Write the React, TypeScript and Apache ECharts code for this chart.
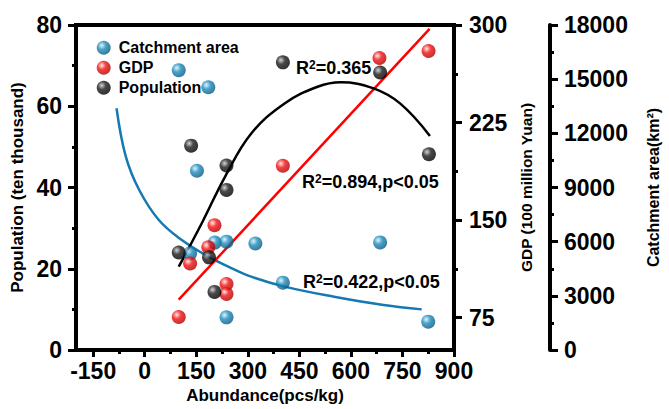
import React, { useEffect, useRef } from "react";
import * as echarts from "echarts";

// ---- data ----
const catchAbundance = [99, 185, 152, 132, 204, 238, 322, 685, 402, 238, 825];
const catchmentValues = [15500, 14550, 9930, 5350, 5950, 6000, 5900, 5960, 3730, 1810, 1570];

const gdpAbundance = [203, 185, 132, 238, 238, 99, 683, 826, 402];
const gdpValues = [146, 129, 116.5, 100.8, 93.1, 75.4, 274.6, 280, 191.7];

const popAbundance = [402, 685, 827, 135, 238, 238, 99, 187, 203];
const popValues = [70.8, 68.3, 48.2, 50.3, 45.4, 39.4, 24, 22.8, 14.3];

// fitted curves
const catchFitX = [-82, -55, -16, 41, 108, 185, 243, 310, 407, 551, 695, 806];
const catchFitY = [13390, 10710, 8860, 7200, 6090, 5170, 4620, 4060, 3510, 2950, 2490, 2250];

const popFitX = [99, 166, 234, 310, 407, 503, 570, 666, 743, 830];
const popFitY = [20.5, 31.2, 42.7, 53.3, 60.7, 64.8, 65.9, 64.4, 60.7, 52.7];

const gdpFitX = [99, 829];
const gdpFitY = [88.7, 297];

// tick values
const xTicks = [-150, 0, 150, 300, 450, 600, 750, 900];
const xMinorTicks = [-75, 75, 225, 375, 525, 675, 825];
const gdpTicks = [75, 150, 225, 300];
const gdpMinorTicks = [112.5, 187.5, 262.5];

const annotations = [
  { r2: "0.365", p: "" },
  { r2: "0.894", p: ",p<0.05" },
  { r2: "0.422", p: ",p<0.05" },
];

const FONT = '"Liberation Sans", Arial, Helvetica, sans-serif';

function zip(xs: number[], ys: number[]) {
  return xs.map((x, i) => [x, ys[i]]);
}

function sphere(light: string, base: string, dark: string) {
  return new echarts.graphic.RadialGradient(0.36, 0.34, 0.66, [
    { offset: 0, color: light },
    { offset: 0.45, color: base },
    { offset: 1, color: dark },
  ]);
}

export default function App() {
  const ref = useRef<HTMLDivElement>(null);
  useEffect(() => {
    const chart = echarts.init(ref.current!, null, { renderer: "svg" });
    const tickLabel = {
      fontSize: 23,
      fontWeight: "bold" as const,
      color: "#000",
      fontFamily: FONT,
      formatter: (v: number) => String(v),
    };
    const axisLine = { show: true, onZero: false, lineStyle: { color: "#000", width: 4 } };
    const noLine = { show: false, onZero: false };
    const nameStyle = (size: number) => ({ fontSize: size, fontWeight: "bold" as const, color: "#000", fontFamily: FONT });

    const annPos = [
      { x: 296, y: 68 },
      { x: 302, y: 182 },
      { x: 303, y: 282 },
    ];

    const option: any = {
      animation: false,
      backgroundColor: "#fff",
      grid: {
        left: 76,
        right: 210,
        top: 25,
        bottom: 59,
        show: true,
        borderColor: "#000",
        borderWidth: 4,
        backgroundColor: "transparent",
      },
      legend: {
        orient: "vertical",
        left: 91.7,
        top: 34.7,
        itemWidth: 20,
        itemHeight: 14,
        itemGap: 4,
        icon: "circle",
        data: ["Catchment area", "GDP", "Population"],
        textStyle: { fontSize: 16, fontWeight: "bold", color: "#000", fontFamily: FONT },
      },
      xAxis: [
        {
          type: "value",
          min: -200,
          max: 900,
          position: "bottom",
          axisLine,
          axisTick: { show: true, customValues: xTicks, length: 7, lineStyle: { width: 3, color: "#000" } },
          axisLabel: { ...tickLabel, customValues: xTicks, margin: 9 },
          splitLine: { show: false },
          name: "Abundance(pcs/kg)",
          nameLocation: "middle",
          nameGap: 37,
          nameTextStyle: nameStyle(17),
        },
        {
          type: "value",
          min: -200,
          max: 900,
          position: "bottom",
          axisLine: noLine,
          axisTick: { show: true, customValues: xMinorTicks, length: 4, lineStyle: { width: 3, color: "#000" } },
          axisLabel: { show: false },
          splitLine: { show: false },
        },
      ],
      yAxis: [
        {
          type: "value",
          min: 0,
          max: 80,
          interval: 20,
          position: "left",
          axisLine,
          axisTick: { show: true, length: 8, lineStyle: { width: 3, color: "#000" } },
          minorTick: { show: true, splitNumber: 2, length: 4, lineStyle: { width: 3, color: "#000" } },
          axisLabel: { ...tickLabel, margin: 14 },
          splitLine: { show: false },
          minorSplitLine: { show: false },
          name: "Population (ten thousand)",
          nameLocation: "middle",
          nameRotate: 90,
          nameGap: 45,
          nameTextStyle: nameStyle(17),
        },
        {
          type: "value",
          min: 50,
          max: 300,
          position: "right",
          axisLine,
          axisTick: { show: true, customValues: gdpTicks, length: 8, lineStyle: { width: 3, color: "#000" } },
          axisLabel: { ...tickLabel, customValues: gdpTicks, margin: 15 },
          splitLine: { show: false },
          name: "GDP (100 million Yuan)",
          nameLocation: "middle",
          nameRotate: 90,
          nameGap: 63,
          nameTextStyle: nameStyle(15.5),
        },
        {
          type: "value",
          min: 0,
          max: 18000,
          interval: 3000,
          position: "right",
          offset: 96,
          axisLine,
          axisTick: { show: true, length: 8, lineStyle: { width: 3, color: "#000" } },
          minorTick: { show: true, splitNumber: 2, length: 4, lineStyle: { width: 3, color: "#000" } },
          axisLabel: { ...tickLabel, margin: 14 },
          splitLine: { show: false },
          minorSplitLine: { show: false },
          name: "Catchment area(km²)",
          nameLocation: "middle",
          nameRotate: 90,
          nameGap: 95,
          nameTextStyle: nameStyle(16),
        },
        {
          type: "value",
          min: 50,
          max: 300,
          position: "right",
          axisLine: noLine,
          axisTick: { show: true, customValues: gdpMinorTicks, length: 4, lineStyle: { width: 3, color: "#000" } },
          axisLabel: { show: false },
          splitLine: { show: false },
        },
      ],
      series: [
        {
          type: "line",
          name: "catchFit",
          xAxisIndex: 0,
          yAxisIndex: 2,
          data: zip(catchFitX, catchFitY),
          smooth: 0.4,
          showSymbol: false,
          lineStyle: { color: "#1679b1", width: 2.5 },
          z: 2,
        },
        {
          type: "line",
          name: "gdpFit",
          xAxisIndex: 0,
          yAxisIndex: 1,
          data: zip(gdpFitX, gdpFitY),
          showSymbol: false,
          lineStyle: { color: "#ff0000", width: 2.5 },
          z: 2,
        },
        {
          type: "line",
          name: "popFit",
          xAxisIndex: 0,
          yAxisIndex: 0,
          data: zip(popFitX, popFitY),
          smooth: 0.4,
          showSymbol: false,
          lineStyle: { color: "#000", width: 2.5 },
          z: 2,
        },
        {
          type: "scatter",
          name: "Catchment area",
          xAxisIndex: 0,
          yAxisIndex: 2,
          data: zip(catchAbundance, catchmentValues),
          symbol: "circle",
          symbolSize: 14,
          itemStyle: { color: sphere("#d8f0fb", "#1b8cbd", "#0a5a82") },
          z: 3,
        },
        {
          type: "scatter",
          name: "GDP",
          xAxisIndex: 0,
          yAxisIndex: 1,
          data: zip(gdpAbundance, gdpValues),
          symbol: "circle",
          symbolSize: 14,
          itemStyle: { color: sphere("#ffe4e4", "#f51010", "#b00000") },
          z: 3,
        },
        {
          type: "scatter",
          name: "Population",
          xAxisIndex: 0,
          yAxisIndex: 0,
          data: zip(popAbundance, popValues),
          symbol: "circle",
          symbolSize: 14,
          itemStyle: { color: sphere("#c8c8c8", "#1a1a1a", "#000000") },
          z: 3,
        },
      ],
      graphic: annotations.map((a, i) => ({
        type: "text",
        x: annPos[i].x,
        y: annPos[i].y,
        z: 10,
        style: {
          text: `{r|R}{s|2}{r|=${a.r2}${a.p}}`,
          verticalAlign: "middle",
          rich: {
            r: { fontSize: 18, fontWeight: "bold", fontFamily: FONT, fill: "#000" },
            s: { fontSize: 12, fontWeight: "bold", fontFamily: FONT, fill: "#000", verticalAlign: "top" },
          },
        },
      })),
    };
    chart.setOption(option);
    return () => chart.dispose();
  }, []);
  return (
    <div
      ref={ref}
      style={{ position: "fixed", left: 0, top: 0, width: 669, height: 409, background: "#fff" }}
    />
  );
}
